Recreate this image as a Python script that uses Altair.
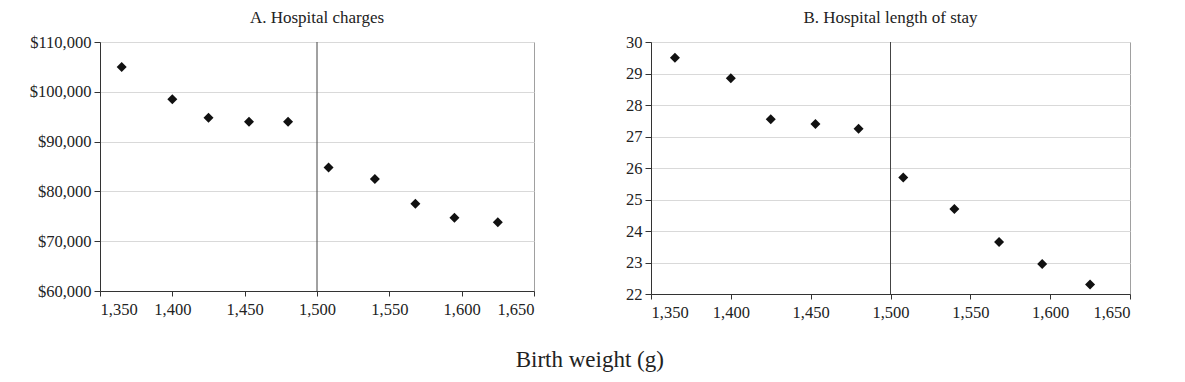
import altair as alt
import pandas as pd

weights = [1365, 1400, 1425, 1453, 1480, 1508, 1540, 1568, 1595, 1625]
charges = [105000, 98500, 94800, 94000, 94000, 84800, 82500, 77500, 74700, 73800]
stay = [29.5, 28.85, 27.55, 27.4, 27.25, 25.7, 24.7, 23.65, 22.95, 22.3]
cutoff = [1500]

x_ticks = [1350, 1400, 1450, 1500, 1550, 1600, 1650]
charge_ticks = [60000, 70000, 80000, 90000, 100000, 110000]
stay_ticks = [22, 23, 24, 25, 26, 27, 28, 29, 30]

df_a = pd.DataFrame({"w": weights, "v": charges})
df_b = pd.DataFrame({"w": weights, "v": stay})
df_cut = pd.DataFrame({"w": cutoff})

FONT = "Liberation Serif"
LSIZE = 16.5

def xenc():
    return alt.X("w:Q", scale=alt.Scale(domain=[1350, 1650], nice=False, zero=False),
                 axis=alt.Axis(values=x_ticks, format=",d", title=None, grid=False,
                               labelFont=FONT, labelFontSize=LSIZE, labelColor="#222222",
                               domainColor="#333333", tickColor="#333333", tickSize=5,
                               labelPadding=5))

def panel(df, title, domain, ticks, fmt, w, h):
    yaxis = alt.Axis(values=ticks, format=fmt, title=None, grid=True, gridColor="#d9d9d9",
                     labelFont=FONT, labelFontSize=LSIZE, labelColor="#222222",
                     domainColor="#333333", tickColor="#333333", tickSize=6, labelPadding=3)
    pts = alt.Chart(df).mark_point(shape="diamond", filled=True, color="#111111", size=100, opacity=1).encode(
        x=xenc(),
        y=alt.Y("v:Q", scale=alt.Scale(domain=domain, nice=False, zero=False), axis=yaxis),
    )
    rule = alt.Chart(df_cut).mark_rule(color="#444444", strokeWidth=1).encode(x=xenc())
    return alt.layer(rule, pts).properties(
        width=w, height=h,
        title=alt.TitleParams(title, font=FONT, fontSize=17, fontWeight="normal", color="#222222", offset=7),
    )

a = panel(df_a, "A. Hospital charges", [60000, 110000], charge_ticks, "$,d", 434, 249)
b = panel(df_b, "B. Hospital length of stay", [22, 30], stay_ticks, "d", 479, 252)

chart = alt.hconcat(a, b, spacing=90).properties(
    title=alt.TitleParams("Birth weight (g)", orient="bottom", anchor="middle", font=FONT,
                          fontSize=23, fontWeight="normal", color="#222222", offset=28, dx=10),
    padding={"left": 20, "top": 0, "right": 5, "bottom": 5},
).configure_view(stroke="#a0a0a0", strokeWidth=1).configure_axis(
    labelFont=FONT, labelFontSize=LSIZE, labelColor="#222222"
).configure_title(font=FONT)

chart.save("out.html", embed_options={"renderer": "svg", "actions": False})
